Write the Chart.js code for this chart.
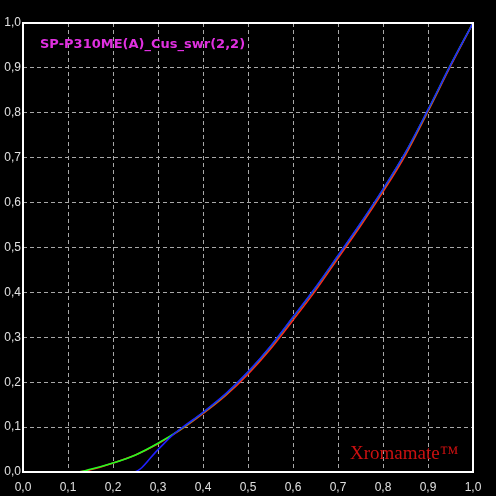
<!DOCTYPE html>
<html>
<head>
<meta charset="utf-8">
<script src="https://cdn.jsdelivr.net/npm/chart.js@4.4.1/dist/chart.umd.min.js"></script>
<style>
html,body{margin:0;padding:0;background:#000;}
#wrap{width:496px;height:496px;}
</style>
</head>
<body>
<div id="wrap"><canvas id="c" width="496" height="496"></canvas></div>
<script>
const chartTitle = "SP-P310ME(A)_Cus_swr(2,2)";
const brand = "Xromamate\u2122";
const tickValues = [0,0.1,0.2,0.3,0.4,0.5,0.6,0.7,0.8,0.9,1.0];

const xRG = [0, 0.05, 0.10, 0.12, 0.15, 0.20, 0.25, 0.30, 0.35, 0.40, 0.45, 0.50, 0.55, 0.60, 0.65, 0.70, 0.75, 0.80, 0.85, 0.90, 0.95, 1.00];
const redY = [0, 0, 0, 0, 0.005, 0.02, 0.038, 0.063, 0.094, 0.130, 0.170, 0.218, 0.274, 0.338, 0.404, 0.476, 0.548, 0.624, 0.706, 0.803, 0.904, 1.00];
const greenY = [0, 0, 0, 0, 0.006, 0.02, 0.038, 0.064, 0.095, 0.132, 0.173, 0.222, 0.279, 0.344, 0.410, 0.481, 0.553, 0.629, 0.711, 0.806, 0.906, 1.00];

const xB = [0, 0.10, 0.20, 0.245, 0.30, 0.33, 0.35, 0.40, 0.45, 0.50, 0.55, 0.60, 0.65, 0.70, 0.75, 0.80, 0.85, 0.90, 0.95, 1.00];
const blueY = [0, 0, 0, 0, 0.050, 0.080, 0.096, 0.133, 0.174, 0.223, 0.280, 0.345, 0.411, 0.482, 0.554, 0.630, 0.712, 0.807, 0.906, 1.00];

function pts(xs, ys){ return xs.map((x,i)=>({x:x, y:ys[i]})); }
function fmt(v){ return v.toFixed(1).replace('.', ','); }

const bgPlugin = {
  id:'bg',
  beforeDraw(chart){
    const ctx = chart.ctx;
    ctx.save();
    ctx.fillStyle = '#000';
    ctx.fillRect(0,0,chart.width,chart.height);
    ctx.restore();
  },
  afterDraw(chart){
    const ctx = chart.ctx, a = chart.chartArea;
    ctx.save();
    ctx.strokeStyle = '#ffffff';
    ctx.lineWidth = 2;
    ctx.strokeRect(a.left, a.top, a.right - a.left, a.bottom - a.top);
    ctx.fillStyle = '#e030e0';
    ctx.font = 'bold 13px "DejaVu Sans"';
    ctx.textBaseline = 'middle';
    ctx.textAlign = 'left';
    ctx.fillText(chartTitle, a.left + 17, a.top + 22);
    ctx.fillStyle = '#cc1010';
    ctx.font = '19px "Liberation Serif"';
    ctx.textBaseline = 'alphabetic';
    ctx.fillText(brand, a.left + 327, a.bottom - 13);
    ctx.restore();
  }
};

new Chart(document.getElementById('c'), {
  type:'line',
  data:{
    datasets:[
      {label:'B', data:pts(xB, blueY), borderColor:'#2020ff', borderWidth:1.6, pointRadius:0, cubicInterpolationMode:'monotone'},
      {label:'G', data:pts(xRG, greenY), borderColor:'#20ff20', borderWidth:1.6, pointRadius:0, cubicInterpolationMode:'monotone'},
      {label:'R', data:pts(xRG, redY), borderColor:'#ff2020', borderWidth:1.6, pointRadius:0, cubicInterpolationMode:'monotone'}
    ]
  },
  options:{
    responsive:false,
    animation:false,
    layout:{padding:{top:23, right:23, left:0, bottom:0}},
    plugins:{legend:{display:false}, tooltip:{enabled:false}},
    scales:{
      x:{
        type:'linear', min:0, max:1,
        afterBuildTicks(s){ s.ticks = tickValues.map(v=>({value:v})); },
        afterFit(s){ s.height = 24; },
        ticks:{color:'#e0e0e0', font:{family:'"Liberation Sans"', size:12}, padding:8, maxRotation:0, autoSkip:false, callback:(v)=>fmt(v)},
        grid:{color:'#a8a8a8', lineWidth:1, drawTicks:false},
        border:{display:false, dash:[4,3]}
      },
      y:{
        type:'linear', min:0, max:1,
        afterBuildTicks(s){ s.ticks = tickValues.map(v=>({value:v})); },
        afterFit(s){ s.width = 23; },
        ticks:{color:'#e0e0e0', font:{family:'"Liberation Sans"', size:12}, padding:2, autoSkip:false, callback:(v)=>fmt(v)},
        grid:{color:'#a8a8a8', lineWidth:1, drawTicks:false},
        border:{display:false, dash:[4,3]}
      }
    }
  },
  plugins:[bgPlugin]
});
</script>
</body>
</html>
